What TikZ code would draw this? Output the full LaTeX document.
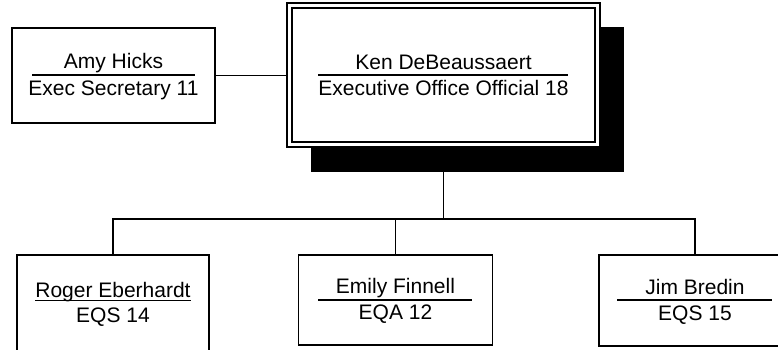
\documentclass[tikz,border=0pt]{standalone}
\usepackage{fontspec}
\setmainfont{Liberation Sans}
\usetikzlibrary{backgrounds}
\tikzset{
    box/.style={draw, line width=1.4pt, fill=white, outer sep=0pt},
    txt/.style={inner sep=0pt, anchor=base, font=\fontsize{21}{25}\selectfont},
    rulebar/.style={line width=1.2pt},
    link/.style={line width=1.4pt},
}

\begin{document}
\begin{tikzpicture}[x=1pt, y=-1pt]
    \useasboundingbox (0,0) rectangle (778,349);

    \node[box, minimum width=203pt, minimum height=95pt] (amy) at (113.5,75.5) {};
    \node[txt] (amyN) at (113.5,68) {Amy Hicks};
    \node[txt] (amyT) at (113.5,95) {Exec Secretary 11};
    \draw[rulebar] (32,75) -- (195,75);

    \node[box, double, double distance=3.5pt, line width=1.4pt, outer sep=3.15pt,
        minimum width=308pt, minimum height=139pt] (ken) at (443.5,75) {};
    \node[txt] (kenN) at (443.5,69) {Ken DeBeaussaert};
    \node[txt] (kenT) at (443.5,95) {Executive Office Official 18};
    \draw[rulebar] (318,75) -- (568,75);

    \begin{scope}[on background layer]
        \fill[black] (311,27) rectangle (624,172);
    \end{scope}

    \node[box, minimum width=192pt, minimum height=110pt] (roger) at (113,310) {};
    \node[txt] (rogerN) at (113,297) {Roger Eberhardt};
    \node[txt] (rogerT) at (113,322) {EQS 14};
    \draw[line width=1pt] ([yshift=-3pt]rogerN.base west) -- ([yshift=-3pt]rogerN.base east);

    \node[box, minimum width=194pt, minimum height=90pt] (emily) at (395.5,300) {};
    \node[txt] (emilyN) at (395.5,293) {Emily Finnell};
    \node[txt] (emilyT) at (395.5,319) {EQA 12};
    \draw[rulebar] (318,300) -- (472,300);

    \node[box, minimum width=192pt, minimum height=91pt] (jim) at (695,300.5) {};
    \node[txt] (jimN) at (695,294) {Jim Bredin};
    \node[txt] (jimT) at (695,320) {EQS 15};
    \draw[rulebar] (617,300) -- (772,300);

    \coordinate (bus) at (443.5,219);
    \draw[link] (amy.east) -- (amy.east -| ken.west);
    \draw[link] (ken.south) -- (bus);
    \draw[link] (roger.north) |- (bus) -| (jim.north);
    \draw[link] (emily.north) -- (emily.north |- bus);

\end{tikzpicture}
\end{document}
